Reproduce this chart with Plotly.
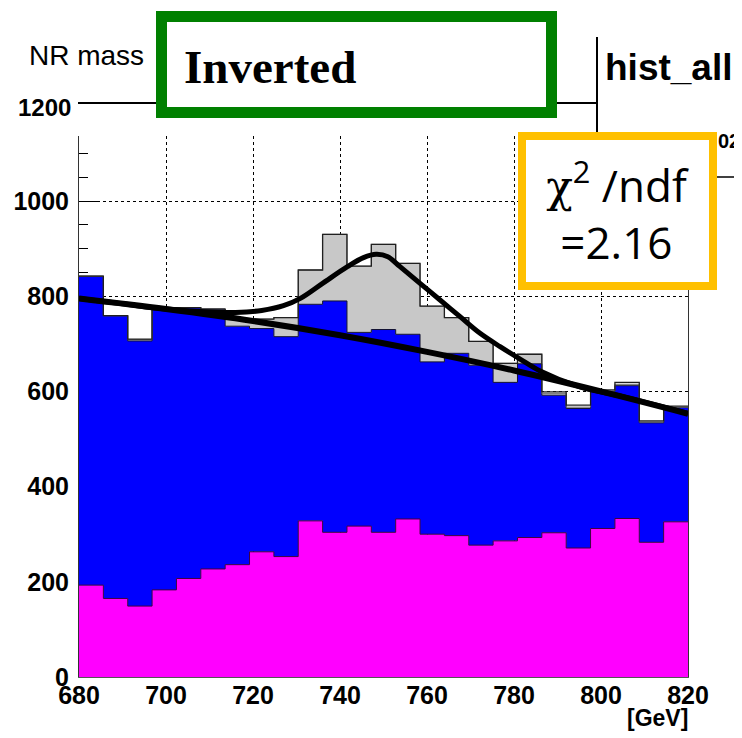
import numpy as np
import plotly.graph_objects as go

# ---------------- data ----------------
x_min, x_max, n_bins = 680.0, 820.0, 25
magenta_top = [193, 165, 149, 183, 207, 227, 236, 263, 253, 328, 304, 317, 304,
               332, 300, 297, 277, 286, 293, 303, 271, 312, 333, 283, 326]
blue_top = [842, 759, 706, 776, 776, 773, 737, 732, 715, 783, 790, 724, 730,
            720, 662, 680, 655, 619, 658, 592, 564, 600, 612, 534, 566]
stack_top = [842, 759, 709, 776, 776, 773, 753, 752, 755, 855, 930, 863, 909,
             869, 779, 755, 705, 659, 678, 596, 567, 601, 615, 536, 567]
data_vals = [842, 759, 710, 776, 776, 773, 753, 752, 755, 855, 930, 863, 909,
             869, 779, 755, 705, 659, 678, 599, 571, 603, 619, 538, 569]

bg_x = [680, 700, 720, 740, 760, 780, 800, 820]
bg_y = [795, 773, 748, 718, 683, 644, 600, 553]

sb_x = [680, 690, 700, 710, 716, 722, 727, 731, 736, 741.7, 745.4, 748.3, 751,
        753.8, 758.4, 763, 767.6, 772.2, 776.8, 781.4, 786, 795, 805, 820]
sb_y = [795, 784, 773, 767, 766, 770, 780, 796, 827, 862, 881, 888, 883,
        862, 827, 792, 757, 722, 694, 668, 643, 610, 589, 554]

x_ticks = [680, 700, 720, 740, 760, 780, 800, 820]
y_ticks = [0, 200, 400, 600, 800, 1000]

# ---------------- geometry helpers (reference pixel coords) ----------------
OFF = 8                      # page body margin
W, H = 742 - OFF, 738 - OFF
L, R, T, B = 79, 688, 136, 677   # plot frame in reference pixels
def px(v):
    return (v - L) / (R - L)
def py(v):
    return (B - v) / (B - T)

edges = np.linspace(x_min, x_max, n_bins + 1)
def steps(vals):
    return list(vals) + [vals[-1]]

fig = go.Figure()

fig.add_trace(go.Scatter(x=edges, y=steps(magenta_top), mode="lines",
                         line=dict(shape="hv", color="#400040", width=1),
                         fill="tozeroy", fillcolor="#FF00FF", hoverinfo="skip"))
fig.add_trace(go.Scatter(x=edges, y=steps(blue_top), mode="lines",
                         line=dict(shape="hv", color="#101030", width=1),
                         fill="tonexty", fillcolor="#0000FF", hoverinfo="skip"))
fig.add_trace(go.Scatter(x=edges, y=steps(stack_top), mode="lines",
                         line=dict(shape="hv", color="#6a6a6a", width=1),
                         fill="tonexty", fillcolor="#C8C8C8", hoverinfo="skip"))
fig.add_trace(go.Scatter(x=edges, y=steps(data_vals), mode="lines",
                         line=dict(shape="hv", color="#202020", width=1.3),
                         hoverinfo="skip"))
fig.add_trace(go.Scatter(x=bg_x, y=bg_y, mode="lines",
                         line=dict(shape="spline", color="black", width=6),
                         hoverinfo="skip"))
fig.add_trace(go.Scatter(x=sb_x, y=sb_y, mode="lines",
                         line=dict(shape="spline", color="black", width=5),
                         hoverinfo="skip"))

tick_font = dict(family="Liberation Sans", size=25, color="black", weight="bold")

fig.update_layout(
    width=W, height=H,
    margin=dict(l=L - OFF, r=742 - R, t=T - OFF, b=738 - B, autoexpand=False),
    paper_bgcolor="white", plot_bgcolor="white",
    showlegend=False,
    xaxis=dict(range=[x_min, x_max], tickvals=x_ticks, ticks="inside", ticklen=18,
               tickcolor="black", showline=True, linecolor="#555", linewidth=1,
               showgrid=True, gridcolor="black", griddash="dot", gridwidth=1,
               zeroline=False, tickfont=tick_font, layer="below traces",
               ticklabelstandoff=-4),
    yaxis=dict(range=[0, (B - T) / 0.476], tickvals=y_ticks, ticks="inside",
               ticklen=18, tickcolor="black", showline=True, linecolor="#333",
               linewidth=1, mirror=True,
               showgrid=True, gridcolor="black", griddash="dot", gridwidth=1,
               zeroline=False, tickfont=tick_font, layer="below traces",
               ticklabelstandoff=4,
               minor=dict(dtick=50, ticks="inside", ticklen=9, tickcolor="black",
                          showgrid=False)),
)

shapes = [
    dict(type="line", xref="paper", yref="paper", x0=px(78), x1=px(597),
         y0=py(103), y1=py(103), line=dict(color="black", width=2)),
    dict(type="line", xref="paper", yref="paper", x0=px(597), x1=px(597),
         y0=py(37), y1=py(140), line=dict(color="black", width=2)),
    dict(type="line", xref="paper", yref="paper", x0=px(700), x1=px(742),
         y0=py(177), y1=py(177), line=dict(color="black", width=1.5)),
    dict(type="rect", xref="paper", yref="paper", x0=px(161.5), x1=px(551.5),
         y0=py(16.5), y1=py(112.5), line=dict(color="#008000", width=11),
         fillcolor="white"),
]
fig.update_layout(shapes=shapes)

ann = [
    dict(text="NR mass", x=px(86), y=py(55), xanchor="center", yanchor="middle",
         font=dict(family="Liberation Sans", size=28, color="black")),
    dict(text="1200", x=px(73), y=py(107), xanchor="right", yanchor="middle",
         font=dict(family="Liberation Sans", size=24, color="black", weight="bold")),
    dict(text="hist_all", x=px(603), y=py(68), xanchor="left", yanchor="middle",
         font=dict(family="Liberation Sans", size=37, color="black", weight="bold")),
    dict(text="Inverted", x=px(182), y=py(67), xanchor="left", yanchor="middle",
         font=dict(family="Liberation Serif", size=47, color="black", weight="bold")),
    dict(text="02", x=px(742), y=py(141), xanchor="right", yanchor="middle",
         font=dict(family="Liberation Sans", size=20, color="black", weight="bold")),
    dict(text='<span style="font-family:DejaVu Serif">χ</span><sup>2</sup> /ndf<br>=2.16',
         x=px(518), y=py(132), xanchor="left", yanchor="top",
         width=183, height=142, align="center", valign="middle",
         bordercolor="#FFC000", borderwidth=8, borderpad=0, bgcolor="white",
         font=dict(family="Open Sans", size=44, color="black")),
    dict(text="[GeV]", x=px(690), y=py(718), xanchor="right", yanchor="middle",
         font=dict(family="Liberation Sans", size=23, color="black", weight="bold")),
]
for a in ann:
    a.update(xref="paper", yref="paper", showarrow=False)
fig.update_layout(annotations=ann)

fig.write_html("out.html")
